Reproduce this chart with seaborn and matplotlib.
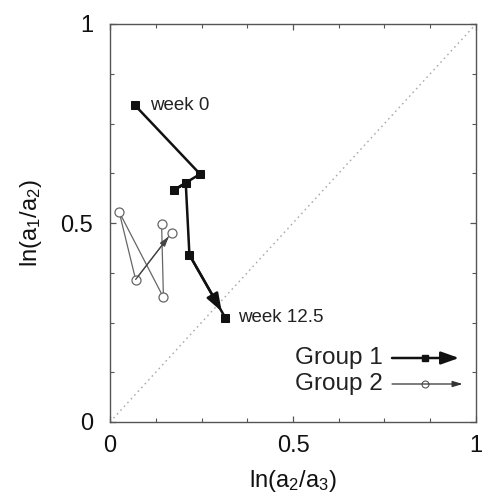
import matplotlib
matplotlib.use("Agg")
import matplotlib.pyplot as plt
import seaborn as sns
import pandas as pd
from matplotlib.ticker import MultipleLocator

# Data
g1_x = [0.068, 0.246, 0.175, 0.207, 0.217, 0.315]
g1_y = [0.796, 0.623, 0.583, 0.600, 0.420, 0.262]
g2_x = [0.141, 0.146, 0.025, 0.070, 0.169]
g2_y = [0.497, 0.313, 0.528, 0.358, 0.476]
point_labels = ["week 0", "week 12.5"]
group_names = ["Group 1", "Group 2"]
ticks = [0, 0.5, 1]
tick_labels = ["0", "0.5", "1"]

sns.set_theme(style="white")
plt.rcParams['font.family'] = ['Liberation Sans', 'DejaVu Sans']
plt.rcParams['mathtext.fontset'] = 'custom'
plt.rcParams['mathtext.rm'] = 'Liberation Sans'

fig = plt.figure(figsize=(4.82, 5.01), dpi=100)
ax = fig.add_axes([110/482, 1-422/501, 366/482, 398/501])

df1 = pd.DataFrame({"x": g1_x, "y": g1_y, "o": range(len(g1_x))})
df2 = pd.DataFrame({"x": g2_x, "y": g2_y, "o": range(len(g2_x))})

# diagonal
ax.plot([0, 1], [0, 1], transform=ax.transAxes, color="#aaaaaa", lw=1.0,
        linestyle=(0, (1.2, 2.5)), zorder=1)

sns.lineplot(data=df1, x="x", y="y", sort=False, ax=ax, color="#111111", lw=1.8,
             marker="s", markersize=5.5, markeredgecolor="#111111", zorder=3)
sns.lineplot(data=df2, x="x", y="y", sort=False, ax=ax, color="#666666", lw=0.9,
             marker="o", markersize=6.5, markerfacecolor="white",
             markeredgecolor="#666666", markeredgewidth=0.9, zorder=2)

# arrowheads on final segments
def arrow_on(xs, ys, frac, width, head_w, head_l, color):
    x0, y0 = xs[-2], ys[-2]
    x1, y1 = xs[-1], ys[-1]
    xt = x0 + (x1 - x0) * frac
    yt = y0 + (y1 - y0) * frac
    ax.annotate("", xy=(xt, yt), xytext=(x0, y0),
                arrowprops=dict(arrowstyle=f"-|>,head_width={head_w},head_length={head_l}",
                                color=color, lw=width, shrinkA=0, shrinkB=0),
                zorder=4)

arrow_on(g1_x, g1_y, 0.9, 1.8, 0.32, 0.9, "#111111")
arrow_on(g2_x, g2_y, 0.92, 0.9, 0.15, 0.5, "#444444")

ax.text(0.109, g1_y[0], point_labels[0], fontsize=13.5, ha="left", va="center", color="#222222")
ax.text(0.35, g1_y[-1], point_labels[1], fontsize=13.5, ha="left", va="center", color="#222222")

# legend (drawn manually)
leg_y = [(422-358)/398, (422-384)/398]
for i, (name, yy) in enumerate(zip(group_names, leg_y)):
    ax.text((383-110)/366, yy, name, transform=ax.transAxes, fontsize=17.5,
            ha="right", va="center", color="#222222")
    x0, x1 = (392-110)/366, (459-110)/366
    if i == 0:
        ax.annotate("", xy=(x1, yy), xytext=(x0, yy), xycoords=ax.transAxes,
                    arrowprops=dict(arrowstyle="-|>,head_width=0.32,head_length=0.9",
                                    color="#111111", lw=1.8, shrinkA=0, shrinkB=0))
        ax.plot([(425-110)/366], [yy], transform=ax.transAxes, marker="s",
                markersize=5, color="#111111")
    else:
        ax.annotate("", xy=(x1 + 0.01, yy), xytext=(x0, yy), xycoords=ax.transAxes,
                    arrowprops=dict(arrowstyle="-|>,head_width=0.15,head_length=0.5",
                                    color="#333333", lw=0.9, shrinkA=0, shrinkB=0))
        ax.plot([(425-110)/366], [yy], transform=ax.transAxes, marker="o",
                markersize=5, markerfacecolor="white", markeredgecolor="#555555",
                markeredgewidth=0.8)

ax.set_xlim(0, 1)
ax.set_ylim(0, 1)
ax.set_xticks(ticks)
ax.set_xticklabels(tick_labels)
ax.set_yticks(ticks)
ax.set_yticklabels(tick_labels)
ax.xaxis.set_minor_locator(MultipleLocator(0.125))
ax.yaxis.set_minor_locator(MultipleLocator(0.125))
ax.tick_params(which="both", direction="in", top=True, right=True, bottom=True, left=True,
               color="#555555", labelsize=17, labelcolor="#111111")
ax.tick_params(which="major", length=4, width=0.9)
ax.tick_params(which="minor", length=3, width=0.8)
ax.tick_params(axis="x", which="major", pad=9)
ax.tick_params(axis="y", which="major", pad=12)
for s in ax.spines.values():
    s.set_color("#555555")
    s.set_linewidth(1.0)
    s.set_visible(True)

ax.set_xlabel(r"ln(a$\mathregular{_2}$/a$\mathregular{_3}$)", fontsize=17, color="#111111", labelpad=8)
ax.set_ylabel(r"ln(a$\mathregular{_1}$/a$\mathregular{_2}$)", fontsize=17, color="#111111", labelpad=12)

fig.savefig("out.png", dpi=100)
